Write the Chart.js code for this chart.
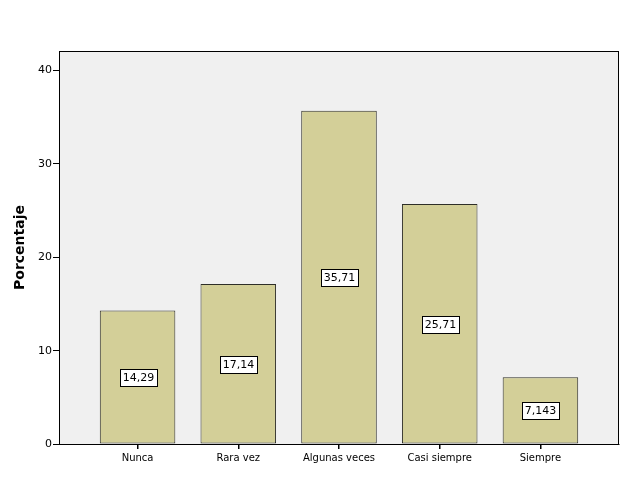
<!DOCTYPE html>
<html>
<head>
<meta charset="utf-8">
<script src="https://cdn.jsdelivr.net/npm/chart.js@4/dist/chart.umd.min.js"></script>
<style>
    html, body { margin: 0; padding: 0; background: #ffffff; }
    #wrap { width: 626px; height: 501px; }
</style>
</head>
<body>
<div id="wrap"><canvas id="chart" width="626" height="501"></canvas></div>
<script>
// Chart data
const categories = ['Nunca', 'Rara vez', 'Algunas veces', 'Casi siempre', 'Siempre'];
const percentages = [14.29, 17.14, 35.71, 25.71, 7.143];
const yTicks = [0, 10, 20, 30, 40];

const FONT = '"DejaVu Sans", Verdana, sans-serif';

// gray plot background with a full black frame
const plotFrame = {
    id: 'plotFrame',
    beforeDraw(chart) {
        const { ctx, chartArea: a } = chart;
        ctx.save();
        ctx.fillStyle = '#f0f0f0';
        ctx.fillRect(a.left, a.top, a.right - a.left, a.bottom - a.top);
        ctx.restore();
    },
    afterDraw(chart) {
        const { ctx, chartArea: a } = chart;
        ctx.save();
        ctx.strokeStyle = '#000000';
        ctx.lineWidth = 1;
        ctx.strokeRect(Math.round(a.left) + 0.5, Math.round(a.top) + 0.5,
            Math.round(a.right - a.left) - 1, Math.round(a.bottom - a.top));
        ctx.restore();
    }
};

// boxed value labels in the middle of each bar
const valueBoxes = {
    id: 'valueBoxes',
    afterDatasetsDraw(chart) {
        const { ctx } = chart;
        const meta = chart.getDatasetMeta(0);
        ctx.save();
        ctx.font = '11px ' + FONT;
        ctx.textAlign = 'center';
        ctx.textBaseline = 'middle';
        meta.data.forEach((bar, i) => {
            const text = String(percentages[i]).replace('.', ',');
            const w = Math.ceil(ctx.measureText(text).width) + 5;
            const h = 17;
            const cx = Math.round(bar.x);
            const cy = Math.round((bar.y + bar.base) / 2);
            const x0 = Math.round(cx - w / 2) + 0.5;
            const y0 = Math.round(cy - h / 2) + 0.5;
            ctx.fillStyle = '#ffffff';
            ctx.fillRect(x0, y0, w, h);
            ctx.strokeStyle = '#000000';
            ctx.lineWidth = 1;
            ctx.strokeRect(x0, y0, w, h);
            ctx.fillStyle = '#000000';
            ctx.fillText(text, cx + 0.5, cy + 1);
        });
        ctx.restore();
    }
};

const ctx = document.getElementById('chart').getContext('2d');
new Chart(ctx, {
    type: 'bar',
    data: {
        datasets: [{
            data: percentages.map((v, i) => ({ x: i, y: v })),
            backgroundColor: '#d3cf98',
            borderColor: '#2e2e28',
            borderWidth: 1,
            borderSkipped: false,
            categoryPercentage: 0.75,
            barPercentage: 1
        }]
    },
    options: {
        responsive: false,
        animation: false,
        layout: { padding: { left: 8, top: 51, right: 7, bottom: 0 } },
        plugins: {
            legend: { display: false },
            tooltip: { enabled: false }
        },
        scales: {
            x: {
                type: 'linear',
                min: -0.78,
                max: 4.78,
                offset: false,
                afterBuildTicks: axis => { axis.ticks = categories.map((c, i) => ({ value: i })); },
                afterFit: axis => { axis.height = 57; },
                ticks: {
                    callback: v => categories[v],
                    color: '#000000',
                    font: { family: FONT, size: 10 },
                    padding: 3,
                    maxRotation: 0,
                    autoSkip: false
                },
                grid: {
                    offset: false,
                    drawOnChartArea: false,
                    drawTicks: true,
                    tickLength: 5,
                    lineWidth: 1.5,
                    color: '#000000'
                },
                border: { display: true, color: '#000000', width: 1 }
            },
            y: {
                min: 0,
                max: 42.1,
                afterBuildTicks: axis => { axis.ticks = yTicks.map(v => ({ value: v })); },
                afterFit: axis => { axis.width = 51; },
                ticks: {
                    color: '#000000',
                    font: { family: FONT, size: 11 },
                    padding: 1
                },
                grid: {
                    drawOnChartArea: false,
                    drawTicks: true,
                    tickLength: 6,
                    color: '#000000'
                },
                border: { display: true, color: '#000000' },
                title: {
                    display: true,
                    text: 'Porcentaje',
                    color: '#000000',
                    font: { family: FONT, size: 14, weight: 'bold' },
                    padding: { top: 4, bottom: 0 }
                }
            }
        }
    },
    plugins: [plotFrame, valueBoxes]
});
</script>
</body>
</html>
